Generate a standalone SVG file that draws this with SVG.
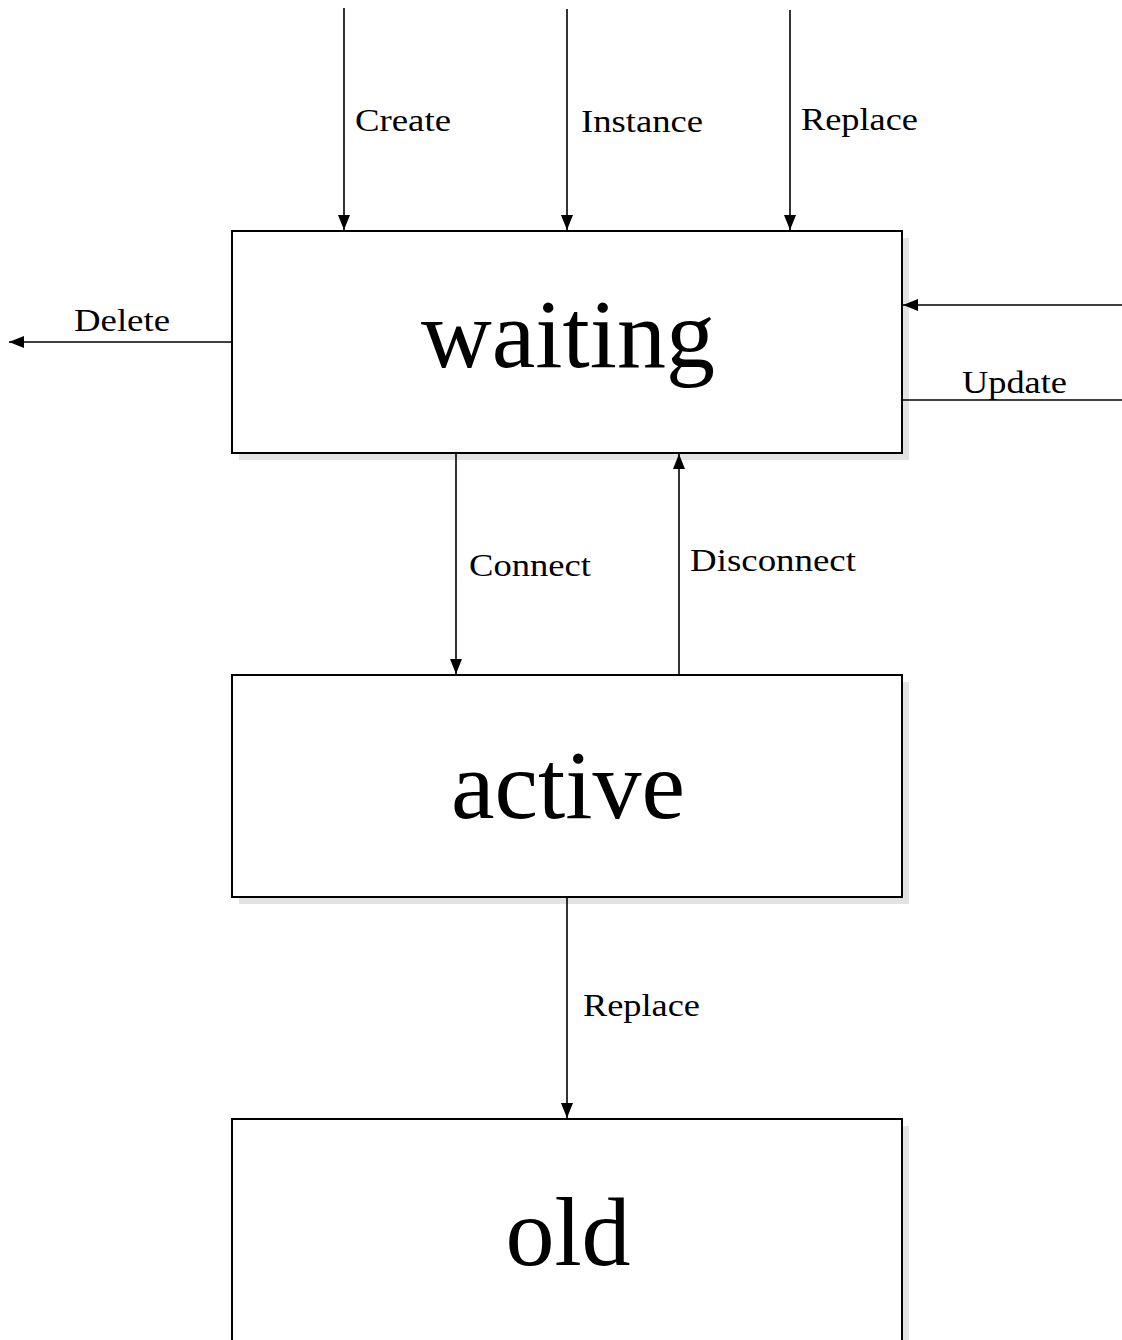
<svg xmlns="http://www.w3.org/2000/svg" width="1122" height="1340" viewBox="0 0 1122 1340">
<defs>
<style>
.box{fill:#fff;stroke:#000;stroke-width:2}
.shadow{fill:#e3e3e3}
.big{font-family:"Liberation Serif","Times New Roman",serif;font-size:98px;fill:#000;text-anchor:middle}
.lbl{font-family:"Liberation Serif","Times New Roman",serif;font-size:31px;fill:#000}
.ln{stroke:#000;stroke-width:1.6;fill:none}
</style>
<marker id="ah" markerWidth="15" markerHeight="12" refX="15" refY="6" orient="auto" markerUnits="userSpaceOnUse">
<path d="M0,0 L15,6 L0,12 Z" fill="#000"/>
</marker>
</defs>
<rect width="1122" height="1340" fill="#fff"/>
<g id="node-waiting">
<rect class="shadow" x="239" y="238" width="670" height="222"/>
<rect class="box" x="232" y="231" width="670" height="222"/>
<text class="big" x="568" y="367">waiting</text>
</g>
<g id="node-active">
<rect class="shadow" x="239" y="682" width="670" height="222"/>
<rect class="box" x="232" y="675" width="670" height="222"/>
<text class="big" x="568" y="818">active</text>
</g>
<g id="node-old">
<rect class="shadow" x="239" y="1126" width="670" height="230"/>
<rect class="box" x="232" y="1119" width="670" height="240"/>
<text class="big" x="568" y="1265">old</text>
</g>
<g id="connectors">
<line class="ln" x1="344" y1="8" x2="344" y2="230" marker-end="url(#ah)"/>
<line class="ln" x1="567" y1="9" x2="567" y2="230" marker-end="url(#ah)"/>
<line class="ln" x1="790" y1="10" x2="790" y2="230" marker-end="url(#ah)"/>
<line class="ln" x1="232" y1="342" x2="9" y2="342" marker-end="url(#ah)"/>
<line class="ln" x1="1122" y1="305" x2="903" y2="305" marker-end="url(#ah)"/>
<line class="ln" x1="902" y1="400" x2="1122" y2="400"/>
<line class="ln" x1="456" y1="453" x2="456" y2="674" marker-end="url(#ah)"/>
<line class="ln" x1="679" y1="675" x2="679" y2="454" marker-end="url(#ah)"/>
<line class="ln" x1="567" y1="897" x2="567" y2="1118" marker-end="url(#ah)"/>
</g>
<g id="labels">
<text class="lbl" x="355" y="131" textLength="96" lengthAdjust="spacingAndGlyphs">Create</text>
<text class="lbl" x="581" y="132" textLength="122" lengthAdjust="spacingAndGlyphs">Instance</text>
<text class="lbl" x="801" y="130" textLength="117" lengthAdjust="spacingAndGlyphs">Replace</text>
<text class="lbl" x="74" y="331" textLength="96" lengthAdjust="spacingAndGlyphs">Delete</text>
<text class="lbl" x="962" y="393" textLength="105" lengthAdjust="spacingAndGlyphs">Update</text>
<text class="lbl" x="469" y="576" textLength="122" lengthAdjust="spacingAndGlyphs">Connect</text>
<text class="lbl" x="690" y="571" textLength="166" lengthAdjust="spacingAndGlyphs">Disconnect</text>
<text class="lbl" x="583" y="1016" textLength="117" lengthAdjust="spacingAndGlyphs">Replace</text>
</g>
</svg>
